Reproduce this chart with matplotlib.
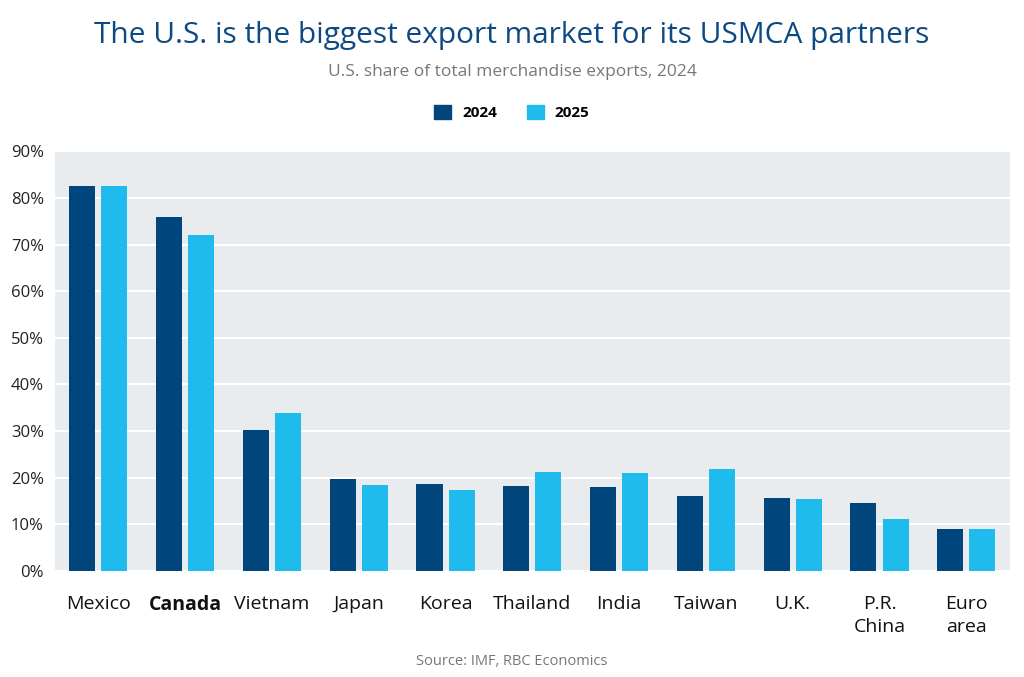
import matplotlib
matplotlib.use("Agg")
import matplotlib.pyplot as plt
import numpy as np
from matplotlib.patches import Patch
from matplotlib.ticker import PercentFormatter

plt.rcParams['font.family'] = ['Open Sans', 'DejaVu Sans']

categories = ["Mexico", "Canada", "Vietnam", "Japan", "Korea", "Thailand",
              "India", "Taiwan", "U.K.", "P.R.\nChina", "Euro\narea"]
share_2024 = [82.5, 76.0, 30.2, 19.8, 18.6, 18.2, 18.1, 16.1, 15.7, 14.5, 8.9]
share_2025 = [82.5, 72.0, 33.8, 18.4, 17.3, 21.3, 21.0, 21.8, 15.4, 11.1, 9.0]

dark = "#00457C"
light = "#1FBBEC"

fig = plt.figure(figsize=(10.24, 6.77), dpi=100)
ax = fig.add_axes([0.0537, 0.1566, 0.9323, 0.620])
ax.set_facecolor("#E8ECEF")

x = np.arange(len(categories))
w = 0.30
ax.bar(x - 0.185, share_2024, width=w, color=dark, zorder=3)
ax.bar(x + 0.185, share_2025, width=w, color=light, zorder=3)

ax.set_xlim(-0.5, len(categories) - 0.5)
ax.set_ylim(0, 90)
ax.set_yticks(np.arange(0, 91, 10))
ax.yaxis.set_major_formatter(PercentFormatter(decimals=0))
ax.grid(axis="y", color="white", linewidth=1.5, zorder=1)
for s in ax.spines.values():
    s.set_visible(False)
ax.tick_params(axis="y", length=0, pad=8, labelsize=12, labelcolor="#222222")
ax.tick_params(axis="x", length=0, pad=17, labelsize=14, labelcolor="#111111")
ax.set_xticks(x)
ax.set_xticklabels(categories, va="top", linespacing=1.4)
ax.get_xticklabels()[1].set_fontweight("bold")

fig.text(0.5, 0.948, "The U.S. is the biggest export market for its USMCA partners",
         ha="center", va="center", fontsize=21.5, color="#0D4A84")
fig.text(0.5, 0.894, "U.S. share of total merchandise exports, 2024",
         ha="center", va="center", fontsize=12.5, color="#777777")
fig.text(0.5, 0.023, "Source: IMF, RBC Economics",
         ha="center", va="center", fontsize=10.5, color="#777777")

handles = [Patch(color=dark, label="2024"), Patch(color=light, label="2025")]
fig.legend(handles=handles, loc="center", bbox_to_anchor=(0.5, 0.834), ncol=2,
           frameon=False, handlelength=1.1, handleheight=1.1, columnspacing=2.0,
           handletextpad=0.7, prop={"weight": "bold", "size": 11})

fig.savefig("out.png", dpi=100)
